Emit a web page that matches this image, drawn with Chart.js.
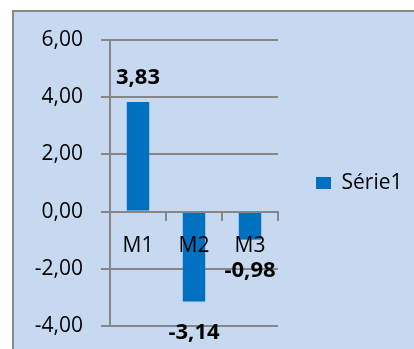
<!DOCTYPE html>
<html>
<head>
<meta charset="utf-8">
<script src="https://cdn.jsdelivr.net/npm/chart.js@4"></script>
<style>
  html, body { margin: 0; padding: 0; background: #fff; overflow: hidden; }
  #frame {
    position: absolute; left: 12px; top: 10px;
    width: 420px; height: 360px;
    background: #c6d9f1; border: 2px solid #8a8a8a;
  }
  #wrap { position: absolute; left: 0; top: 0; width: 414px; height: 349px; }
</style>
</head>
<body>
<div id="frame"></div>
<div id="wrap"><canvas id="grafico"></canvas></div>
<script>
const categorias = ['M1', 'M2', 'M3'];
const serie1 = [3.83, -3.14, -0.98];
const ticksY = [-4, -2, 0, 2, 4, 6];

const fmt = (v) => v.toFixed(2).replace('.', ',');
const cinza = '#868686';

// rótulos de valor em negrito na ponta de cada barra
const rotulos = {
    id: 'rotulos',
    afterDatasetsDraw(chart) {
        const ctx = chart.ctx;
        const meta = chart.getDatasetMeta(0);
        ctx.save();
        ctx.font = 'bold 22px "Open Sans"';
        ctx.fillStyle = '#000';
        ctx.textAlign = 'center';
        ctx.textBaseline = 'middle';
        meta.data.forEach((bar, i) => {
            const v = serie1[i];
            const y = v >= 0 ? bar.y - 24 : bar.y + 31;
            ctx.fillText(fmt(v), bar.x, y);
        });
        ctx.restore();
    }
};

// largura fixa da legenda à direita
const larguraLegenda = {
    id: 'larguraLegenda',
    beforeInit(chart) {
        const fit = chart.legend.fit;
        chart.legend.fit = function () {
            fit.call(this);
            this.width = 136;
        };
    }
};

new Chart(document.getElementById('grafico'), {
    type: 'bar',
    data: {
        labels: categorias,
        datasets: [{
            label: 'Série1',
            data: serie1,
            backgroundColor: '#0070c0',
            borderWidth: 0,
            categoryPercentage: 1,
            barPercentage: 0.4
        }]
    },
    options: {
        responsive: true,
        maintainAspectRatio: false,
        animation: false,
        layout: { padding: { top: 40, bottom: 23, left: 0, right: 0 } },
        plugins: {
            legend: {
                position: 'right',
                labels: {
                    boxWidth: 15,
                    boxHeight: 12,
                    padding: 38,
                    color: '#000',
                    font: { family: 'Open Sans', size: 21 }
                }
            },
            tooltip: { enabled: false }
        },
        scales: {
            x: {
                position: { y: 0 },
                grid: {
                    drawOnChartArea: false,
                    drawTicks: true,
                    tickLength: 8,
                    color: cinza,
                    lineWidth: 2,
                    z: 1
                },
                border: { display: true, color: cinza, width: 2, z: 1 },
                ticks: {
                    z: 1, // nomes das categorias por cima das barras
                    color: '#000',
                    padding: 14,
                    font: { family: 'Open Sans', size: 21 }
                }
            },
            y: {
                min: -4,
                max: 6,
                afterFit: (scale) => {
                    scale.width = 110;
                    scale.paddingTop = 0;
                    scale.paddingBottom = 0;
                },
                afterBuildTicks: (scale) => {
                    scale.ticks = ticksY.map(v => ({ value: v }));
                },
                grid: {
                    color: cinza,
                    lineWidth: 2,
                    tickLength: 9
                },
                border: { display: true, color: cinza, width: 2 },
                ticks: {
                    color: '#000',
                    padding: 18,
                    font: { family: 'Open Sans', size: 21 },
                    callback: (value) => fmt(value)
                }
            }
        }
    },
    plugins: [rotulos, larguraLegenda]
});
</script>
</body>
</html>
